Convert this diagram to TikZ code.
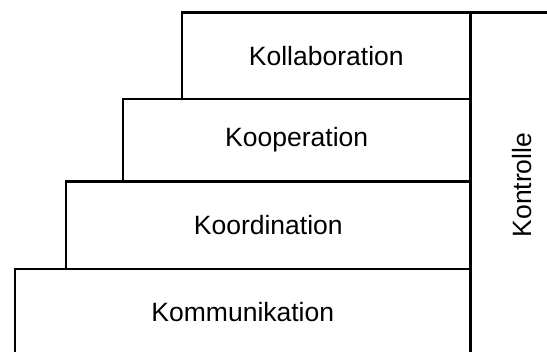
\documentclass[tikz,border=0pt]{standalone}
\usepackage{fontspec}
\setmainfont{Liberation Sans}
\tikzset{%
    stufe/.style={draw, line width=2.6pt, inner sep=0pt, anchor=north west,
        font=\fontsize{26.5}{31}\selectfont}
}

\begin{document}
\begin{tikzpicture}[x=1pt, y=-1pt]
            \useasboundingbox (0,0) rectangle (547,352);
            \clip (0,0) rectangle (547,352);

            \node[stufe, minimum width=455.6pt, minimum height=87pt] (komm) at (13.7,267.7) {Kommunikation};
            \node[stufe, minimum width=404.6pt, minimum height=87.7pt] (koord) at (64.7,180) {Koordination};
            \node[stufe, minimum width=347.8pt, minimum height=82.3pt] (koop) at (121.5,97.7) {Kooperation};
            \node[stufe, minimum width=288.6pt, minimum height=86.4pt] (koll) at (180.7,11.3) {Kollaboration};

            \node[stufe, rotate=90, anchor=north east, minimum width=345pt, minimum height=102pt] (kontr) at (469.3,11.3) {Kontrolle};
\end{tikzpicture}
\end{document}
